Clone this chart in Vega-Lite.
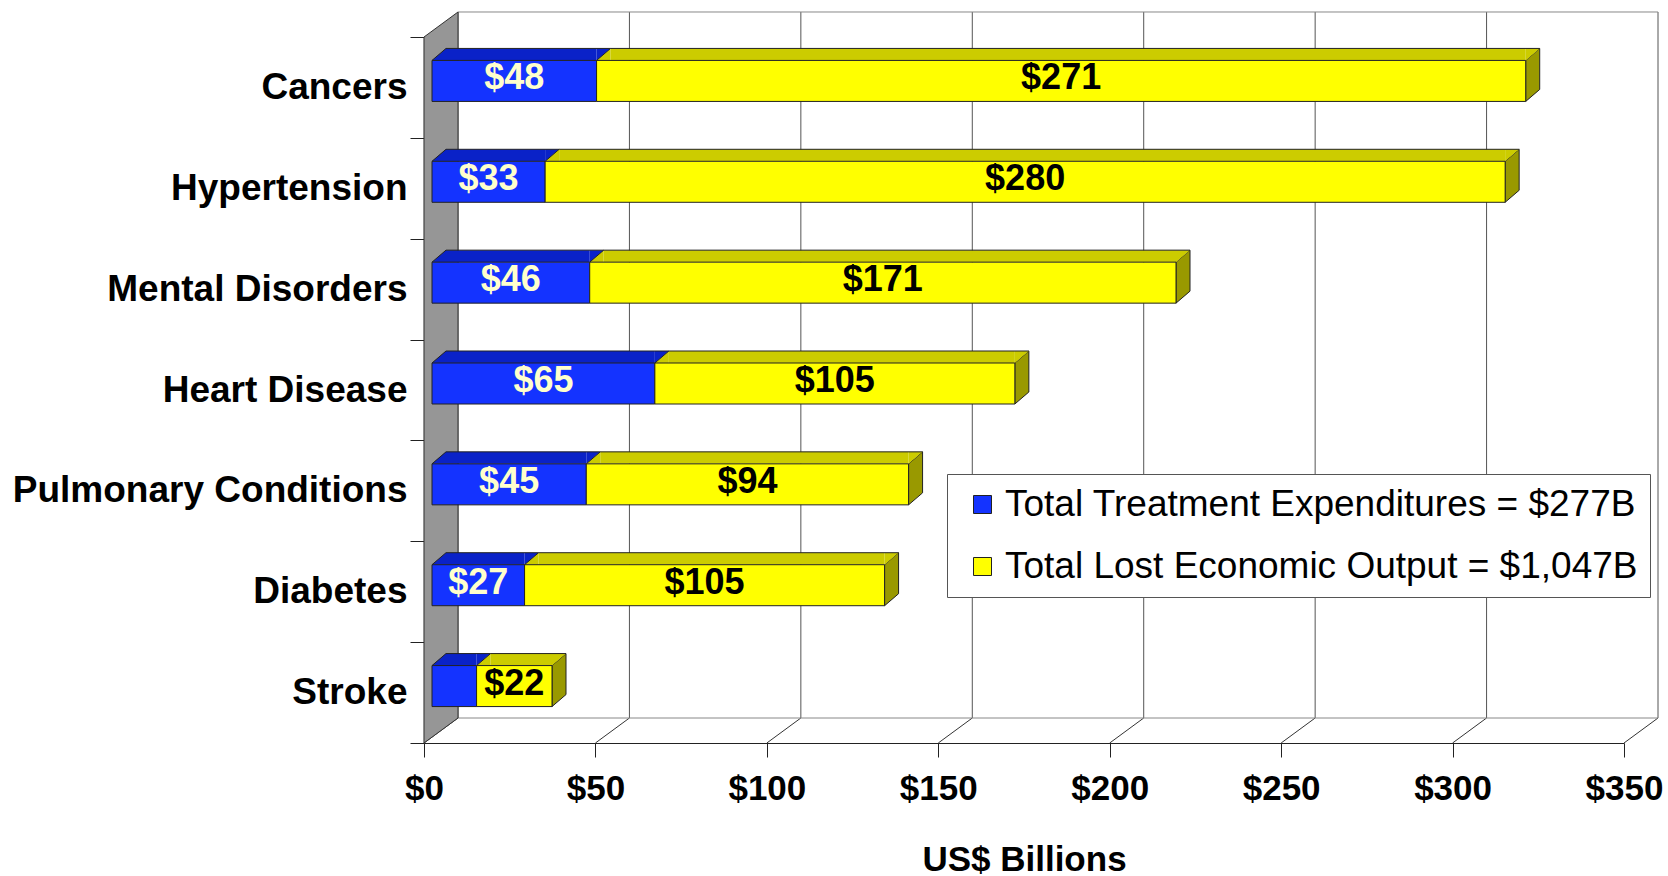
{
  "$schema": "https://vega.github.io/schema/vega-lite/v6.json",
  "width": 1200,
  "height": 706,
  "autosize": {"type": "none"},
  "padding": {"left": 424, "top": 37, "right": 44, "bottom": 133},
  "background": "white",
  "datasets": {
    "bars": [
      {"disease": "Cancers", "series": "Total Treatment Expenditures = $277B", "seg": 1, "value": 48},
      {"disease": "Cancers", "series": "Total Lost Economic Output = $1,047B", "seg": 2, "value": 271},
      {"disease": "Hypertension", "series": "Total Treatment Expenditures = $277B", "seg": 1, "value": 33},
      {"disease": "Hypertension", "series": "Total Lost Economic Output = $1,047B", "seg": 2, "value": 280},
      {"disease": "Mental Disorders", "series": "Total Treatment Expenditures = $277B", "seg": 1, "value": 46},
      {"disease": "Mental Disorders", "series": "Total Lost Economic Output = $1,047B", "seg": 2, "value": 171},
      {"disease": "Heart Disease", "series": "Total Treatment Expenditures = $277B", "seg": 1, "value": 65},
      {"disease": "Heart Disease", "series": "Total Lost Economic Output = $1,047B", "seg": 2, "value": 105},
      {"disease": "Pulmonary Conditions", "series": "Total Treatment Expenditures = $277B", "seg": 1, "value": 45},
      {"disease": "Pulmonary Conditions", "series": "Total Lost Economic Output = $1,047B", "seg": 2, "value": 94},
      {"disease": "Diabetes", "series": "Total Treatment Expenditures = $277B", "seg": 1, "value": 27},
      {"disease": "Diabetes", "series": "Total Lost Economic Output = $1,047B", "seg": 2, "value": 105},
      {"disease": "Stroke", "series": "Total Treatment Expenditures = $277B", "seg": 1, "value": 13},
      {"disease": "Stroke", "series": "Total Lost Economic Output = $1,047B", "seg": 2, "value": 22}
    ],
    "ticks": [{"t": 0}, {"t": 50}, {"t": 100}, {"t": 150}, {"t": 200}, {"t": 250}, {"t": 300}, {"t": 350}]
  },
  "layer": [
    {
      "data": {"name": "ticks"},
      "mark": {"type": "rule", "xOffset": 34, "yOffset": -75.43, "y2Offset": 25.43, "color": "#555555", "strokeWidth": 1},
      "encoding": {
        "x": {
          "field": "t", "type": "quantitative",
          "scale": {"domain": [0, 350], "nice": false, "zero": true},
          "axis": {"values": [0, 50, 100, 150, 200, 250, 300, 350], "format": "$,.0f", "title": "US$ Billions"}
        },
        "y": {
          "datum": "Cancers", "type": "nominal", "bandPosition": 0.5,
          "scale": {"type": "band", "domain": ["Cancers", "Hypertension", "Mental Disorders", "Heart Disease", "Pulmonary Conditions", "Diabetes", "Stroke"], "paddingInner": 0, "paddingOuter": 0},
          "axis": {"title": null}
        },
        "y2": {"datum": "Stroke", "bandPosition": 0.5}
      }
    },
    {
      "data": {"name": "ticks"},
      "mark": {"type": "rule", "x2Offset": 34, "yOffset": 50.43, "y2Offset": 25.43, "color": "#333333", "strokeWidth": 1},
      "encoding": {
        "x": {"field": "t", "type": "quantitative"},
        "x2": {"field": "t"},
        "y": {"datum": "Stroke", "type": "nominal", "bandPosition": 0.5},
        "y2": {"datum": "Stroke", "bandPosition": 0.5}
      }
    },
    {
      "data": {"name": "ticks"},
      "mark": {"type": "rule", "xOffset": 34, "x2Offset": 34, "yOffset": 25.43, "color": "#888888", "strokeWidth": 1},
      "encoding": {
        "x": {"aggregate": "min", "field": "t", "type": "quantitative"},
        "x2": {"aggregate": "max", "field": "t"},
        "y": {"datum": "Stroke", "type": "nominal", "bandPosition": 0.5}
      }
    },
    {
      "data": {"name": "ticks"},
      "mark": {"type": "rule", "xOffset": 34, "x2Offset": 34, "yOffset": -75.43, "color": "#888888", "strokeWidth": 1},
      "encoding": {
        "x": {"aggregate": "min", "field": "t", "type": "quantitative"},
        "x2": {"aggregate": "max", "field": "t"},
        "y": {"datum": "Cancers", "type": "nominal", "bandPosition": 0.5}
      }
    },
    {
      "data": {"name": "ticks"},
      "transform": [{"filter": "datum.t == 0"}],
      "mark": {"type": "point", "shape": "M0,1.0086L0,-13.1114L0.68,-13.6114L0.68,0.5086Z", "size": 10000, "filled": true, "fill": "#969696", "stroke": "#333333", "strokeWidth": 1, "opacity": 1},
      "encoding": {
        "x": {"field": "t", "type": "quantitative"},
        "y": {"datum": "Stroke", "type": "nominal", "bandPosition": 0.5}
      }
    },
    {
      "data": {"name": "bars"},
      "transform": [
        {"stack": "value", "groupby": ["disease"], "sort": [{"field": "seg", "order": "ascending"}], "as": ["x0", "x1"]}
      ],
      "encoding": {
        "y": {"field": "disease", "type": "nominal", "title": null, "sort": null}
      },
      "layer": [
        {
          "transform": [{"filter": "datum.seg == 2"}],
          "mark": {"type": "point", "shape": "M0,-0.54L0.28,-0.78L0.28,0.04L0,0.28Z", "size": 10000, "filled": true, "fill": "#999900", "stroke": "#222222", "strokeWidth": 1, "opacity": 1, "xOffset": 8},
          "encoding": {"x": {"field": "x1", "type": "quantitative"}}
        },
        {
          "mark": {"type": "bar", "height": 12, "xOffset": 22, "x2Offset": 8, "yOffset": -33},
          "encoding": {
            "x": {"field": "x0", "type": "quantitative", "stack": null},
            "x2": {"field": "x1"},
            "fill": {"condition": {"test": "datum.seg == 1", "value": "#0A22C8"}, "value": "#CCCC00"}
          }
        },
        {
          "mark": {"type": "point", "shape": "M0,-0.54L0.28,-0.78L0.28,-0.54Z", "size": 10000, "filled": true, "opacity": 1, "xOffset": 8, "strokeWidth": 0},
          "encoding": {
            "x": {"field": "x0", "type": "quantitative"},
            "fill": {"condition": {"test": "datum.seg == 1", "value": "#0A22C8"}, "value": "#CCCC00"}
          }
        },
        {
          "mark": {"type": "point", "shape": "M0,-0.54L0,-0.78L0.28,-0.78Z", "size": 10000, "filled": true, "opacity": 1, "xOffset": 8, "strokeWidth": 0},
          "encoding": {
            "x": {"field": "x1", "type": "quantitative"},
            "fill": {"condition": {"test": "datum.seg == 1", "value": "#0A22C8"}, "value": "#CCCC00"}
          }
        },
        {
          "mark": {"type": "bar", "height": 41, "xOffset": 8, "x2Offset": 8, "yOffset": -6.5, "stroke": "#222222", "strokeWidth": 1},
          "encoding": {
            "x": {"field": "x0", "type": "quantitative", "stack": null},
            "x2": {"field": "x1"},
            "color": {
              "field": "series", "type": "nominal",
              "scale": {"domain": ["Total Treatment Expenditures = $277B", "Total Lost Economic Output = $1,047B"], "range": ["#1433FF", "#FFFF00"]},
              "legend": {
                "orient": "none", "legendX": 523, "legendY": 437, "title": null,
                "symbolType": "square", "symbolSize": 324, "symbolStrokeColor": "#222222", "symbolStrokeWidth": 1, "symbolOpacity": 1,
                "symbolOffset": 5, "labelOffset": 4,
                "labelFont": "Liberation Sans", "labelFontSize": 37, "labelColor": "black", "labelLimit": 0,
                "padding": 12, "rowPadding": 24,
                "strokeColor": "#555555", "fillColor": "white"
              }
            }
          }
        },
        {
          "mark": {"type": "rule", "xOffset": 22, "x2Offset": 22, "yOffset": -39, "color": "#222222", "strokeWidth": 1},
          "encoding": {
            "x": {"field": "x0", "type": "quantitative"},
            "x2": {"field": "x1"}
          }
        },
        {
          "mark": {"type": "rule", "xOffset": 8, "x2Offset": 22, "yOffset": -27, "y2Offset": -39, "color": "#222222", "strokeWidth": 1},
          "encoding": {
            "x": {"field": "x0", "type": "quantitative"},
            "x2": {"field": "x0"},
            "y2": {"field": "disease"}
          }
        },
        {
          "transform": [
            {"filter": "datum.disease != 'Stroke' || datum.seg != 1"},
            {"fold": ["x0", "x1"], "as": ["edge", "pos"]},
            {"aggregate": [{"op": "mean", "field": "pos", "as": "mid"}], "groupby": ["disease", "seg", "value"]}
          ],
          "mark": {"type": "text", "font": "Liberation Sans", "fontSize": 36, "fontWeight": "bold", "align": "center", "baseline": "middle", "xOffset": 8, "yOffset": -9},
          "encoding": {
            "x": {"field": "mid", "type": "quantitative"},
            "text": {"field": "value", "type": "quantitative", "format": "$,.0f"},
            "fill": {"condition": {"test": "datum.seg == 1", "value": "#FFFFCC"}, "value": "black"}
          }
        }
      ]
    }
  ],
  "config": {
    "view": {"stroke": null},
    "font": "Liberation Sans",
    "axisX": {
      "grid": false, "labelFlush": false, "labelOverlap": false,
      "tickSize": 14, "labelPadding": 14, "titlePadding": 36,
      "labelFont": "Liberation Sans", "labelFontSize": 35, "labelFontWeight": "bold", "labelColor": "black",
      "titleFont": "Liberation Sans", "titleFontSize": 35, "titleFontWeight": "bold", "titleColor": "black",
      "domainColor": "#222222", "domainWidth": 1.2, "tickColor": "#222222", "tickWidth": 1
    },
    "axisY": {
      "grid": false, "tickBand": "extent", "tickSize": 14, "labelPadding": 3,
      "labelFont": "Liberation Sans", "labelFontSize": 37, "labelFontWeight": "bold", "labelColor": "black", "labelLimit": 0,
      "domainColor": "#222222", "domainWidth": 1.2, "tickColor": "#222222", "tickWidth": 1
    }
  }
}
